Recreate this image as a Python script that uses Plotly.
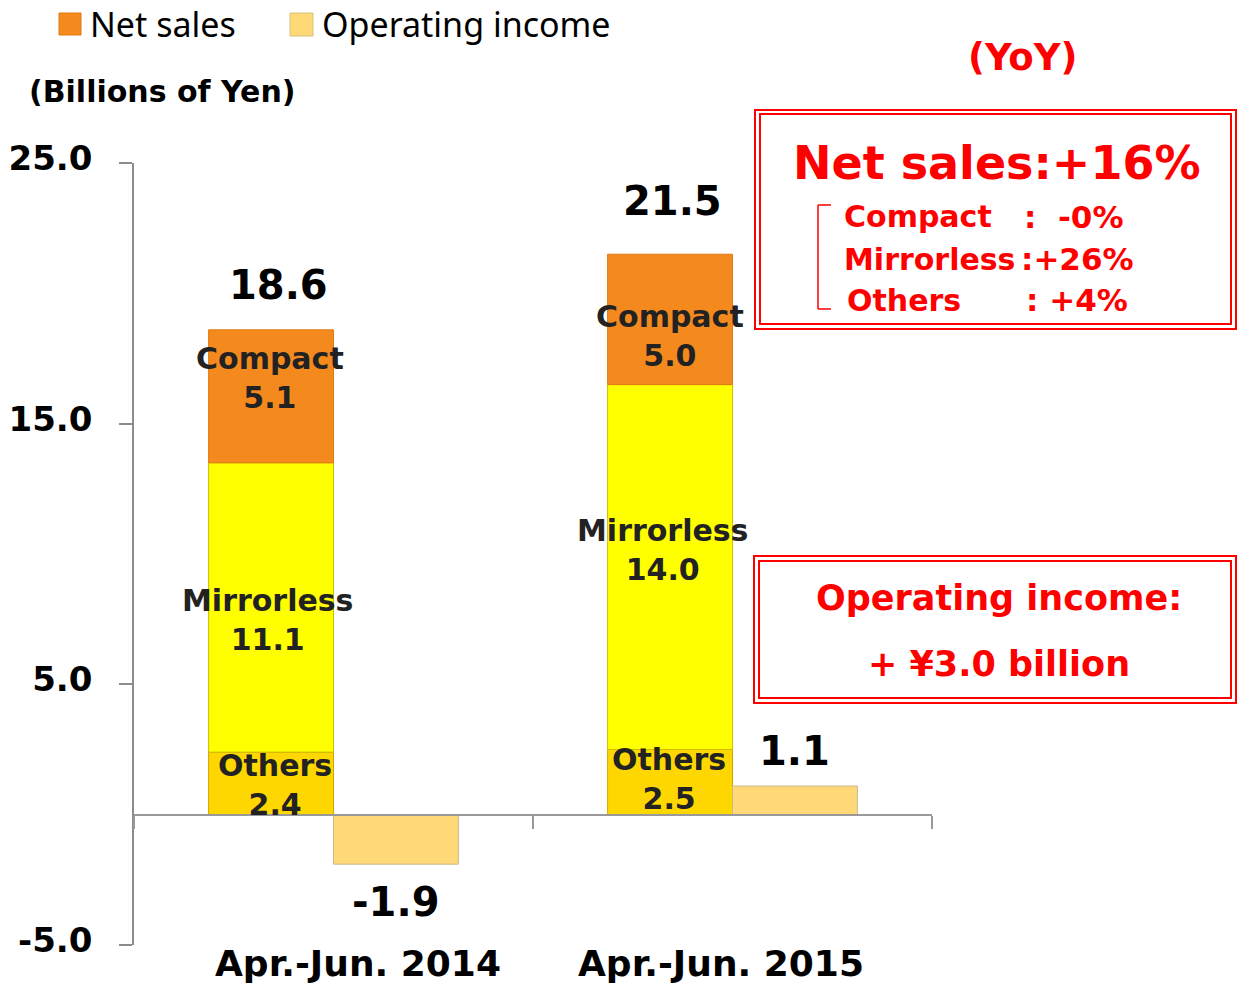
import plotly.graph_objects as go

# ---- data ----
periods = ["Apr.-Jun. 2014", "Apr.-Jun. 2015"]
others = [2.4, 2.5]
mirrorless = [11.1, 14.0]
compact = [5.1, 5.0]
net_sales = [18.6, 21.5]
op_income = [-1.9, 1.1]
y_ticks = [-5.0, 5.0, 15.0, 25.0]
yoy_segments = ["Compact", "Mirrorless", "Others"]
yoy_values = [":  -0%", ":+26%", ": +4%"]
yoy_total = "Net sales:+16%"
oi_change = ["Operating income:", "+ ¥3.0 billion"]

# ---- layout geometry (page pixels) ----
W, H = 1240, 983
PL, PR, PT, PB = 134, 932, 163, 945  # plot area in page pixels
L, T = PL, PT
R, B = W - PR, H - PB
PW, PH = PR - PL, PB - PT


def px(x):
    return (x - PL) / PW


def py(y):
    return (PB - y) / PH


FONT = "DejaVu Sans"
DARK = "#222222"
RED = "#FF0000"
BW = 0.313

C_COMPACT = "#F4891E"
C_MIRROR = "#FFFF00"
C_OTHERS = "#FFD700"
C_OI = "#FFD878"

base_mirror = [o for o in others]
base_compact = [o + m for o, m in zip(others, mirrorless)]

fig = go.Figure()
fig.add_bar(x=periods, y=others, base=[0] * len(others), width=BW, offset=-BW,
            marker=dict(color=C_OTHERS, line=dict(color="#D6A300", width=1)), name="Others")
fig.add_bar(x=periods, y=mirrorless, base=base_mirror, width=BW, offset=-BW,
            marker=dict(color=C_MIRROR, line=dict(color="#CDBE00", width=1)), name="Mirrorless")
fig.add_bar(x=periods, y=compact, base=base_compact, width=BW, offset=-BW,
            marker=dict(color=C_COMPACT, line=dict(color="#E07A12", width=1)), name="Compact")
fig.add_bar(x=periods, y=op_income, width=BW, offset=0,
            marker=dict(color=C_OI, line=dict(color="#C8B98E", width=1)), name="Operating income")

ann = []

# segment labels inside the stacked bars
seg_sets = [
    ("Compact", compact, base_compact, [18, -17], [-1, 0]),
    ("Mirrorless", mirrorless, base_mirror, [-13, 17], [-4, -8]),
    ("Others", others, [0, 0], [-2, 3], [4, -1]),
]
for name, vals, bases, ysh, xsh in seg_sets:
    for i, (v, b0) in enumerate(zip(vals, bases)):
        ann.append(dict(x=i - BW / 2, y=b0 + v / 2, xref="x", yref="y",
                        text=f"{name}<br>{v:.1f}", showarrow=False,
                        font=dict(family=FONT, size=30, color=DARK, weight="bold"),
                        xanchor="center", yanchor="middle", yshift=ysh[i], xshift=xsh[i]))

# totals
tot_shift = [45, 53]
tot_xshift = [7, 2]
for i, v in enumerate(net_sales):
    ann.append(dict(x=i - BW / 2, y=v, xref="x", yref="y", text=f"{v:.1f}",
                    showarrow=False, font=dict(family=FONT, size=40, color="black", weight="bold"),
                    xanchor="center", yanchor="middle", yshift=tot_shift[i], xshift=tot_xshift[i]))

# operating income labels
oi_shift = [-38, 35]
for i, v in enumerate(op_income):
    ann.append(dict(x=i + BW / 2, y=v, xref="x", yref="y", text=f"{v:.1f}",
                    showarrow=False, font=dict(family=FONT, size=40, color="black", weight="bold"),
                    xanchor="center", yanchor="middle", yshift=oi_shift[i]))

# category labels
cat_xshift = [24, -12]
for i, p in enumerate(periods):
    ann.append(dict(x=i, y=y_ticks[0], xref="x", yref="y", text=p, showarrow=False,
                    font=dict(family=FONT, size=36, color="black", weight="bold"),
                    xanchor="center", yanchor="middle", yshift=-18, xshift=cat_xshift[i]))

# unit label
ann.append(dict(x=px(27), y=py(92), xref="paper", yref="paper", text="(Billions of Yen)",
                showarrow=False, font=dict(family=FONT, size=30, color="black", weight="bold"),
                xanchor="left", yanchor="middle"))

# legend (manual)
ann.append(dict(x=px(89), y=py(0), xref="paper", yref="paper", text="Net sales",
                showarrow=False, font=dict(family="Noto Sans", size=34, color="black"),
                xanchor="left", yanchor="top", borderpad=0))
ann.append(dict(x=px(321), y=py(0), xref="paper", yref="paper", text="Operating income",
                showarrow=False, font=dict(family="Noto Sans", size=34, color="black"),
                xanchor="left", yanchor="top", borderpad=0))

# YoY
ann.append(dict(x=px(1023), y=py(57), xref="paper", yref="paper", text="(YoY)",
                showarrow=False, font=dict(family=FONT, size=37, color=RED, weight="bold"),
                xanchor="center", yanchor="middle"))
ann.append(dict(x=px(997), y=py(163), xref="paper", yref="paper", text=yoy_total,
                showarrow=False, font=dict(family=FONT, size=46, color=RED, weight="bold"),
                xanchor="center", yanchor="middle"))
line_y = [217, 259, 300]
lab_x = [842, 842, 845]
val_x = [1022, 1019, 1024]
for k, (s, v) in enumerate(zip(yoy_segments, yoy_values)):
    ann.append(dict(x=px(lab_x[k]), y=py(line_y[k]), xref="paper", yref="paper", text=s,
                    showarrow=False, font=dict(family=FONT, size=30, color=RED, weight="bold"),
                    xanchor="left", yanchor="middle"))
    ann.append(dict(x=px(val_x[k]), y=py(line_y[k]), xref="paper", yref="paper", text=v,
                    showarrow=False, font=dict(family=FONT, size=31, color=RED, weight="bold"),
                    xanchor="left", yanchor="middle"))

ann.append(dict(x=px(999), y=py(598), xref="paper", yref="paper", text=oi_change[0],
                showarrow=False, font=dict(family=FONT, size=35, color=RED, weight="bold"),
                xanchor="center", yanchor="middle"))
ann.append(dict(x=px(999), y=py(664), xref="paper", yref="paper", text=oi_change[1],
                showarrow=False, font=dict(family=FONT, size=35, color=RED, weight="bold"),
                xanchor="center", yanchor="middle"))

shapes = []


def rect(x0, y0, x1, y1, **kw):
    d = dict(type="rect", xref="paper", yref="paper",
             x0=px(x0), x1=px(x1), y0=py(y0), y1=py(y1))
    d.update(kw)
    return d


def seg(x0, y0, x1, y1, **kw):
    d = dict(type="line", xref="paper", yref="paper",
             x0=px(x0), x1=px(x1), y0=py(y0), y1=py(y1))
    d.update(kw)
    return d


# legend swatches
shapes.append(rect(59, 13, 81, 35, fillcolor=C_COMPACT, line=dict(color="#E07A12", width=1)))
shapes.append(rect(290, 13, 313, 36, fillcolor=C_OI, line=dict(color="#D9C27A", width=1)))

# double red boxes
shapes.append(rect(755, 110, 1236, 329, line=dict(color=RED, width=2)))
shapes.append(rect(760, 114, 1231, 324, line=dict(color=RED, width=2)))
shapes.append(rect(754, 556, 1236, 703, line=dict(color=RED, width=2)))
shapes.append(rect(759, 561, 1231, 698, line=dict(color=RED, width=2)))

# bracket
shapes.append(seg(818, 205, 818, 309, line=dict(color=RED, width=1.5)))
shapes.append(seg(818, 205, 831, 205, line=dict(color=RED, width=1.5)))
shapes.append(seg(818, 309, 831, 309, line=dict(color=RED, width=1.5)))

fig.update_layout(
    width=W, height=H,
    margin=dict(l=L, r=R, t=T, b=B, pad=0, autoexpand=False),
    paper_bgcolor="white", plot_bgcolor="white",
    barmode="overlay", showlegend=False,
    annotations=ann, shapes=shapes,
    xaxis=dict(type="category", range=[-0.5, 1.5], anchor="free",
               position=(0 - y_ticks[0]) / (y_ticks[-1] - y_ticks[0]),
               showline=True, linecolor="#999999", linewidth=2,
               ticks="outside", tickson="boundaries", ticklen=13, tickcolor="#999999", tickwidth=2,
               showticklabels=False, showgrid=False, zeroline=False, fixedrange=True,
               automargin=False),
    yaxis=dict(range=[y_ticks[0], y_ticks[-1]], tickvals=y_ticks,
               ticktext=[f"{v:.1f}" for v in y_ticks],
               showline=True, linecolor="#8c8c8c", linewidth=1.5,
               ticks="outside", ticklen=13, tickcolor="#8c8c8c", tickwidth=1.5,
               ticklabelstandoff=20, ticklabelshift=-5,
               tickfont=dict(family=FONT, size=34, color="black", weight="bold"),
               showgrid=False, zeroline=False, fixedrange=True, automargin=False),
)

fig.write_html("out.html", config={"displayModeBar": False},
               post_script="document.body.style.margin='0px';document.body.style.overflow='hidden';")
